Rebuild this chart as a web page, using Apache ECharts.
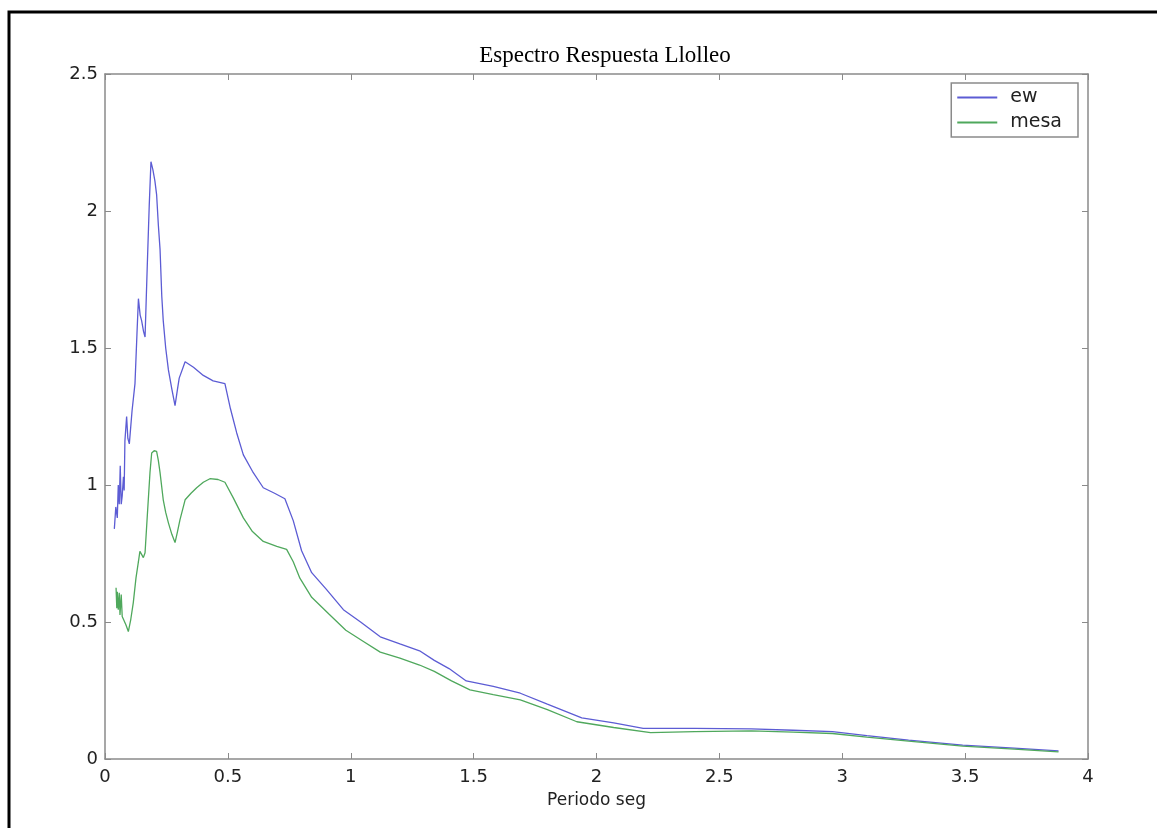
<!DOCTYPE html>
<html>
<head>
<meta charset="utf-8">
<script src="https://cdn.jsdelivr.net/npm/echarts@6/dist/echarts.min.js"></script>
<style>
  html, body { margin: 0; padding: 0; background: #fff; }
  #chart { width: 1157px; height: 828px; }
</style>
</head>
<body>
<div id="chart"></div>
<script>
// Espectro de respuesta, periodo [s] vs amplitud
var titulo = 'Espectro Respuesta Llolleo';
var nombreX = 'Periodo seg';
var seriesNames = ['ew', 'mesa'];

// ew: [periodo, valor]
var ewData = [
    [0.038,0.84],[0.044,0.92],[0.050,0.88],[0.054,1.00],[0.058,0.93],[0.062,1.07],
    [0.066,0.93],[0.070,0.96],[0.075,1.03],[0.078,0.98],[0.081,1.16],[0.088,1.25],
    [0.093,1.17],[0.099,1.15],[0.110,1.27],[0.122,1.37],[0.130,1.55],[0.136,1.68],
    [0.143,1.62],[0.149,1.60],[0.157,1.56],[0.163,1.54],[0.172,1.80],[0.180,2.02],
    [0.187,2.18],[0.195,2.15],[0.203,2.11],[0.210,2.06],[0.217,1.95],[0.224,1.86],
    [0.231,1.69],[0.237,1.60],[0.247,1.50],[0.258,1.42],[0.272,1.35],[0.285,1.29],
    [0.295,1.35],[0.302,1.39],[0.326,1.45],[0.36,1.43],[0.40,1.40],[0.44,1.38],
    [0.488,1.37],[0.51,1.28],[0.536,1.19],[0.563,1.11],[0.60,1.05],[0.644,0.99],
    [0.69,0.97],[0.732,0.95],[0.766,0.87],[0.80,0.76],[0.841,0.68],[0.90,0.62],
    [0.97,0.545],[1.04,0.50],[1.12,0.446],[1.20,0.42],[1.28,0.395],[1.34,0.36],
    [1.40,0.33],[1.47,0.285],[1.58,0.265],[1.69,0.24],[1.80,0.20],[1.94,0.15],
    [2.07,0.132],[2.19,0.112],[2.40,0.112],[2.63,0.11],[2.80,0.105],[2.96,0.10],
    [3.10,0.085],[3.27,0.069],[3.49,0.051],[3.70,0.04],[3.88,0.03]
];

// mesa: [periodo, valor]
var mesaData = [
    [0.045,0.625],[0.048,0.55],[0.050,0.61],[0.054,0.545],[0.058,0.607],[0.061,0.526],
    [0.066,0.60],[0.070,0.52],[0.075,0.51],[0.085,0.49],[0.095,0.465],[0.105,0.51],
    [0.115,0.57],[0.126,0.66],[0.136,0.72],[0.142,0.758],[0.150,0.745],[0.156,0.735],
    [0.163,0.753],[0.172,0.886],[0.183,1.045],[0.190,1.117],[0.200,1.125],[0.210,1.123],
    [0.217,1.09],[0.224,1.045],[0.237,0.946],[0.247,0.90],[0.258,0.862],[0.272,0.82],
    [0.285,0.79],[0.295,0.83],[0.305,0.873],[0.326,0.946],[0.35,0.97],[0.373,0.99],
    [0.40,1.01],[0.427,1.023],[0.46,1.02],[0.488,1.01],[0.522,0.953],[0.563,0.88],
    [0.60,0.83],[0.644,0.794],[0.699,0.776],[0.739,0.765],[0.766,0.72],[0.793,0.66],
    [0.841,0.59],[0.91,0.53],[0.98,0.47],[1.05,0.43],[1.12,0.39],[1.20,0.368],
    [1.28,0.343],[1.34,0.32],[1.41,0.285],[1.485,0.252],[1.58,0.235],[1.69,0.216],
    [1.80,0.18],[1.92,0.136],[2.07,0.115],[2.22,0.096],[2.40,0.10],[2.63,0.103],
    [2.80,0.098],[2.96,0.093],[3.10,0.08],[3.27,0.065],[3.49,0.047],[3.70,0.036],
    [3.88,0.026]
];

var ejeGris = '#8a8a8a';
var fuente = 'DejaVu Sans';
var colorEw = '#5c5cd4';
var colorMesa = '#4fa85c';

var chart = echarts.init(document.getElementById('chart'));

// ejes tipo matlab: caja con ticks hacia adentro
function ejeX(pos, conLabel) {
    return {
        type: 'value',
        position: pos,
        min: 0, max: 4, interval: 0.5,
        name: conLabel ? nombreX : '',
        nameLocation: 'middle',
        nameGap: 33,
        nameTextStyle: { fontFamily: fuente, fontSize: 17, color: '#222' },
        axisLine: { show: true, onZero: false, lineStyle: { color: ejeGris, width: 1.5 } },
        axisTick: { show: true, inside: true, length: 6, lineStyle: { color: ejeGris } },
        axisLabel: { show: conLabel, margin: 9, fontFamily: fuente, fontSize: 18, color: '#222' },
        splitLine: { show: false }
    };
}
function ejeY(pos, conLabel) {
    return {
        type: 'value',
        position: pos,
        min: 0, max: 2.5, interval: 0.5,
        axisLine: { show: true, onZero: false, lineStyle: { color: ejeGris, width: 1.5 } },
        axisTick: { show: true, inside: true, length: 6, lineStyle: { color: ejeGris } },
        axisLabel: { show: conLabel, margin: 7, fontFamily: fuente, fontSize: 18, color: '#222' },
        splitLine: { show: false }
    };
}

var option = {
    backgroundColor: '#fff',
    animation: false,
    title: {
        text: titulo,
        left: 600,
        textAlign: 'center',
        top: 39,
        textStyle: { fontFamily: 'Liberation Serif', fontWeight: 'normal', fontSize: 23, color: '#000' }
    },
    legend: {
        data: seriesNames,
        orient: 'vertical',
        right: 79,
        top: 83,
        icon: 'rect',
        itemWidth: 40,
        itemHeight: 2,
        itemGap: 6,
        padding: [5, 16, 5, 6],
        borderColor: ejeGris,
        borderWidth: 1.5,
        borderRadius: 0,
        backgroundColor: '#fff',
        textStyle: { fontFamily: fuente, fontSize: 19, color: '#222', padding: [0, 0, 0, 8] }
    },
    grid: { left: 105, right: 69, top: 74, bottom: 69 },
    xAxis: [ejeX('bottom', true), ejeX('top', false)],
    yAxis: [ejeY('left', true), ejeY('right', false)],
    graphic: [{
        type: 'rect',
        shape: { x: 9, y: 12, width: 1400, height: 1000 },
        style: { fill: 'none', stroke: '#000', lineWidth: 3 },
        silent: true
    }],
    series: [
        {
            name: seriesNames[0],
            type: 'line',
            data: ewData,
            symbol: 'none',
            lineStyle: { color: colorEw, width: 1.3 },
            itemStyle: { color: colorEw }
        },
        {
            name: seriesNames[1],
            type: 'line',
            data: mesaData,
            symbol: 'none',
            lineStyle: { color: colorMesa, width: 1.3 },
            itemStyle: { color: colorMesa }
        }
    ]
};
chart.setOption(option);
</script>
</body>
</html>
